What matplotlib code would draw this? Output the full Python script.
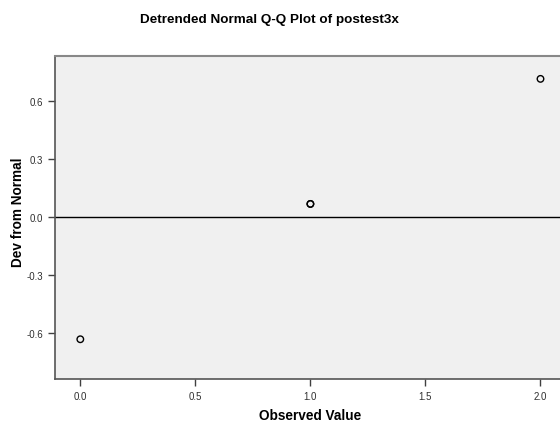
import matplotlib
matplotlib.use('Agg')
import matplotlib.pyplot as plt

# Observed values and their deviation from the normal line
observed = [0.0, 1.0, 1.0, 2.0]
dev_from_normal = [-0.631, 0.067, 0.067, 0.712]

x_ticks = [0.0, 0.5, 1.0, 1.5, 2.0]
y_ticks = [-0.6, -0.3, 0.0, 0.3, 0.6]

plt.rcParams['font.family'] = ['Liberation Sans', 'DejaVu Sans']

fig = plt.figure(figsize=(5.6, 4.27), dpi=100)
fig.patch.set_facecolor('white')

# Axes runs off the right edge of the figure
ax = fig.add_axes([55 / 560, 47 / 427, 520 / 560, 323 / 427])
ax.set_facecolor('#f0f0f0')

ax.axhline(0, color='black', linewidth=1.0, zorder=1)
ax.scatter(observed, dev_from_normal, s=22, facecolors='none',
           edgecolors='black', linewidths=1.0, zorder=3)

ax.set_xlim(-0.11, 2.15)
ax.set_ylim(-0.836, 0.83)
ax.set_xticks(x_ticks)
ax.set_xticklabels(['%.1f' % v for v in x_ticks])
ax.set_yticks(y_ticks)
ax.set_yticklabels(['%.1f' % v for v in y_ticks])

ax.tick_params(direction='out', length=5, width=1, colors='#404040',
               labelsize=7, labelcolor='#303030')

for side in ['left', 'bottom']:
    ax.spines[side].set_color('#555555')
    ax.spines[side].set_linewidth(1.2)
ax.spines['top'].set_color('#888888')
ax.spines['top'].set_linewidth(1.5)
ax.spines['right'].set_visible(False)

ax.set_xlabel('Observed Value', fontsize=9.8, fontweight='bold')
ax.set_ylabel('Dev from Normal', fontsize=9.8, fontweight='bold')
ax.xaxis.set_label_coords((310 - 55) / 520, -(409 - 380) / 323)
ax.yaxis.set_label_coords(-(55 - 25) / 520, (380 - 212) / 323)

fig.text(269 / 560, 1 - 20 / 427, 'Detrended Normal Q-Q Plot of postest3x',
         ha='center', va='center', fontsize=9.7, fontweight='bold')

plt.savefig('out.png', dpi=100)
